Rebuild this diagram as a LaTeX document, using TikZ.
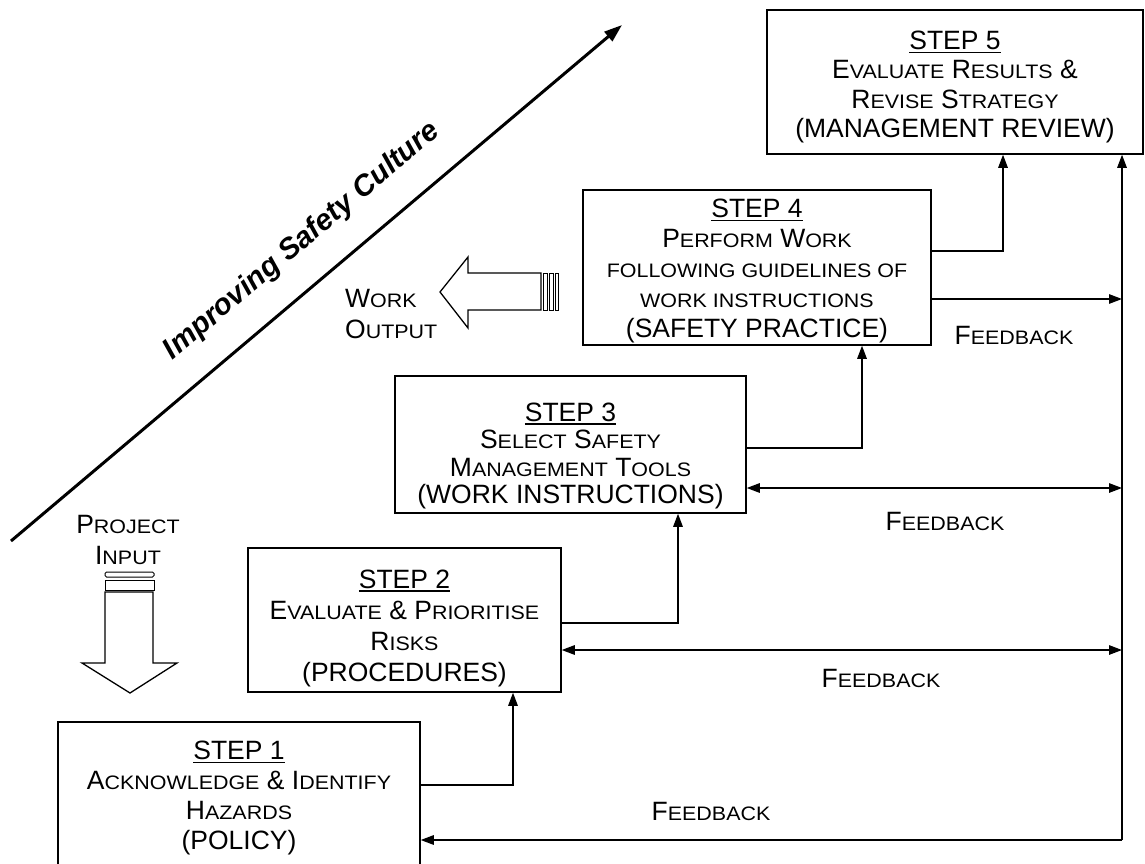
\documentclass[tikz,border=0pt]{standalone}
\usepackage{fontspec}
\setmainfont{Liberation Sans}
\newfontfamily\smcapfont{Liberation Sans}[FakeStretch=1.1]
\usetikzlibrary{arrows.meta}

% reduced capitals standing in for small caps
\newcommand\sm[1]{{\smcapfont\fontsize{19.5}{20}\selectfont #1}}
% underlined step heading
\newsavebox\ulbox
\newcommand\stepul[1]{\sbox\ulbox{#1}\rlap{\rule[-3.5pt]{\wd\ulbox}{1.4pt}}\usebox\ulbox}

\tikzset{
  stepbox/.style={draw, line width=1.5pt, inner sep=0pt},
  boxtext/.style={align=center, inner sep=0pt},
  conn/.style={line width=1.3pt, -{Triangle[length=13pt,width=9.5pt]}},
  dconn/.style={line width=1.3pt, {Triangle[length=13pt,width=9.5pt]}-{Triangle[length=13pt,width=9.5pt]}},
  lbl/.style={inner sep=0pt, font=\fontsize{26.5}{31}\selectfont},
  blockarrow/.style={draw, line width=1.3pt, line join=miter, fill=white},
  bar/.style={draw, line width=1pt, fill=white},
}

\begin{document}
\begin{tikzpicture}[x=1pt, y=-1pt]
\useasboundingbox (0,0) rectangle (1145,864);
\fill[white] (0,0) rectangle (1145,864);
\clip (0,0) rectangle (1145,864);

% ---- the five steps ----
\node[stepbox, minimum width=362pt, minimum height=148pt] (s1) at (239,796) {};
\node[stepbox, minimum width=313pt, minimum height=144pt] (s2) at (404.5,620) {};
\node[stepbox, minimum width=351pt, minimum height=137pt] (s3) at (570.5,444.5) {};
\node[stepbox, minimum width=348pt, minimum height=155pt] (s4) at (757,267.5) {};
\node[stepbox, minimum width=376pt, minimum height=144pt] (s5) at (955,82) {};

\node[boxtext, font=\fontsize{26.5}{30}\selectfont] (t1) at (239,798)
  {\stepul{STEP 1}\\ A\sm{CKNOWLEDGE} \& I\sm{DENTIFY}\\ H\sm{AZARDS}\\ (POLICY)};
\node[boxtext, font=\fontsize{26.5}{31}\selectfont] (t2) at (404.5,628)
  {\stepul{STEP 2}\\ E\sm{VALUATE} \& P\sm{RIORITISE}\\ R\sm{ISKS}\\ (PROCEDURES)};
\node[boxtext, font=\fontsize{26.5}{27.5}\selectfont] (t3) at (570.5,456)
  {\stepul{STEP 3}\\ S\sm{ELECT} S\sm{AFETY}\\ M\sm{ANAGEMENT} T\sm{OOLS}\\ (WORK INSTRUCTIONS)};
\node[boxtext, font=\fontsize{26.5}{30}\selectfont] (t4) at (757,271)
  {\stepul{STEP 4}\\ P\sm{ERFORM} W\sm{ORK}\\ \sm{FOLLOWING GUIDELINES OF}\\ \sm{WORK INSTRUCTIONS}\\ (SAFETY PRACTICE)};
\node[boxtext, font=\fontsize{26.5}{29.3}\selectfont] (t5) at (955,87)
  {\stepul{STEP 5}\\ E\sm{VALUATE} R\sm{ESULTS} \&\\ R\sm{EVISE} S\sm{TRATEGY}\\ (MANAGEMENT REVIEW)};

% ---- forward steps ----
\draw[conn] (s1.east |- 0,785) -| (s2.south -| 513,0);
\draw[conn] (s2.east |- 0,623) -| (s3.south -| 678,0);
\draw[conn] (s3.east |- 0,448) -| (s4.south -| 862,0);
\draw[conn] (s4.east |- 0,251) -| (s5.south -| 1003,0);

% ---- feedback loop ----
\coordinate (fb) at (1122,840);
\coordinate (f2) at (1122,650);
\coordinate (f3) at (1122,488);
\coordinate (f4) at (1122,299);
\draw[conn] (fb) -- (s5.south -| fb);
\draw[conn] (fb) -- (s1.east |- fb);
\draw[dconn] (s2.east |- f2) -- (f2);
\draw[dconn] (s3.east |- f3) -- (f3);
\draw[conn] (s4.east |- f4) -- (f4);

\node[lbl] (fbl1) at (711,811) {F\sm{EEDBACK}};
\node[lbl] (fbl2) at (881,678) {F\sm{EEDBACK}};
\node[lbl] (fbl3) at (945,521) {F\sm{EEDBACK}};
\node[lbl] (fbl4) at (1014,335) {F\sm{EEDBACK}};

% ---- improving safety culture axis ----
\coordinate (d0) at (11,541);
\coordinate (d1) at (622,25);
\draw[line width=3pt, -{Triangle[length=18pt,width=12pt]}] (d0) -- (d1);
\node[inner sep=0pt, rotate=40.2, font=\fontsize{29.5}{30}\selectfont\bfseries\itshape]
  (culture) at (302,241) {Improving Safety Culture};

% ---- work output ----
\draw[blockarrow] (541,273) -- (468,273) -- (468,257) -- (440,292)
  -- (468,328) -- (468,310) -- (541,310) -- cycle;
\draw[bar] (543,273) rectangle (547.5,310);
\draw[bar] (549.5,273) rectangle (553,310);
\draw[bar] (555,273) rectangle (558.5,310);
\node[lbl, align=left, anchor=west] (wo) at (345,314) {W\sm{ORK}\\ O\sm{UTPUT}};

% ---- project input ----
\node[lbl, align=center] (pi) at (128,540) {P\sm{ROJECT}\\ I\sm{NPUT}};
\draw[bar, rounded corners=1.5pt] (105,572) rectangle (154,577);
\draw[bar] (105,580.5) rectangle (154,590);
\draw[blockarrow] (105,592) -- (105,663) -- (82,663) -- (130,693)
  -- (177,663) -- (153,663) -- (153,592) -- cycle;
\end{tikzpicture}
\end{document}
